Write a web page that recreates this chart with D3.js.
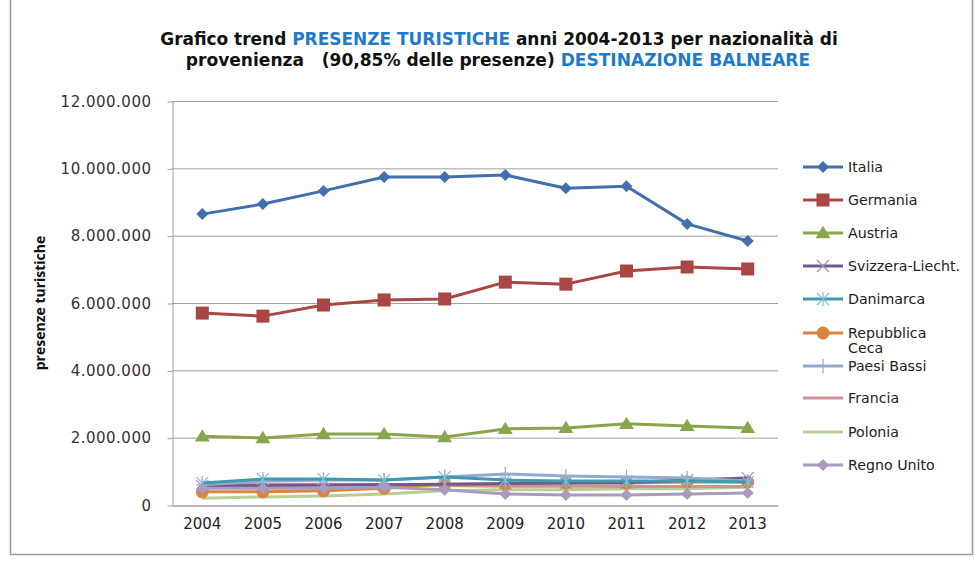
<!DOCTYPE html>
<html><head><meta charset="utf-8">
<script src="https://cdn.jsdelivr.net/npm/d3@7"></script>
<style>
body{margin:0;background:#fff;}
svg{display:block;font-family:"DejaVu Sans",sans-serif;}
</style></head>
<body><svg id="c" width="974" height="563"></svg>
<script>
const years = ["2004","2005","2006","2007","2008","2009","2010","2011","2012","2013"];
const yTicks = [0,2000000,4000000,6000000,8000000,10000000,12000000];
const seriesNames = ["Italia","Germania","Austria","Svizzera-Liecht.","Danimarca","Repubblica Ceca","Paesi Bassi","Francia","Polonia","Regno Unito"];
const italia     = [8640000,8940000,9330000,9740000,9740000,9800000,9410000,9470000,8350000,7840000];
const germania   = [5700000,5610000,5940000,6090000,6120000,6620000,6560000,6950000,7070000,7010000];
const austria    = [2040000,1990000,2110000,2110000,2020000,2260000,2290000,2410000,2350000,2290000];
const svizzera   = [560000,580000,590000,600000,620000,640000,650000,660000,740000,800000];
const danimarca  = [650000,770000,770000,740000,830000,740000,710000,710000,710000,680000];
const repCeca    = [390000,390000,420000,500000,620000,620000,650000,650000,680000,680000];
const paesiBassi = [600000,710000,740000,740000,830000,920000,860000,830000,800000,710000];
const francia    = [600000,620000,620000,610000,580000,560000,560000,550000,550000,550000];
const polonia    = [200000,240000,270000,330000,420000,450000,450000,480000,480000,530000];
const regnoUnito = [500000,500000,500000,530000,450000,330000,300000,300000,330000,360000];
const seriesValues = [italia,germania,austria,svizzera,danimarca,repCeca,paesiBassi,francia,polonia,regnoUnito];
const colors = ["#4170AC","#AA4643","#89A54E","#71588F","#4198AF","#DB843D","#93A9CF","#D19392","#B9CD96","#A99BBD"];
const markers = ["diamond","square","triangle","x","asterisk","circle","plus","none","none","diamond"];

const svg = d3.select("#c");
svg.append("rect").attr("x",10.5).attr("y",-2).attr("width",962).attr("height",556.5)
  .attr("fill","none").attr("stroke","#999").attr("stroke-width",1.5);

const L=172, R=778, T=101, B=505;
const x = d3.scaleBand().domain(years).range([L,R]);
const y = d3.scaleLinear().domain([0,12000000]).range([B,T]);
const fmt = v => d3.format(",")(v).replace(/,/g,".");

svg.append("g").selectAll("line").data(yTicks.filter(d=>d>0)).join("line")
  .attr("x1",L).attr("x2",R).attr("y1",d=>y(d)+0.5).attr("y2",d=>y(d)+0.5)
  .attr("stroke","#a0a0a0").attr("stroke-width",1);

const ya = svg.append("g").attr("transform",`translate(${L+0.5},0.5)`)
  .call(d3.axisLeft(y).tickValues(yTicks).tickFormat(fmt).tickSize(5).tickSizeOuter(0).tickPadding(16));
ya.select(".domain").attr("stroke","#a0a0a0");
ya.selectAll(".tick line").attr("stroke","#a0a0a0");
ya.selectAll("text").attr("font-size",15).attr("letter-spacing",0.5).attr("fill","#333")
  .attr("font-family","'DejaVu Sans',sans-serif");

const xa = svg.append("g").attr("transform",`translate(0,${B+0.5})`)
  .call(d3.axisBottom(x).tickSize(0).tickPadding(13));
xa.select(".domain").attr("stroke","#a0a0a0").attr("stroke-width",1.5);
xa.selectAll("text").attr("font-size",15).attr("fill","#222").attr("font-family","'DejaVu Sans',sans-serif");

svg.append("text").attr("transform","translate(45,303) rotate(-90)").attr("text-anchor","middle")
  .attr("font-size",14).attr("font-weight","bold").attr("font-family","'Liberation Sans Narrow','Open Sans',sans-serif")
  .attr("fill","#111").text("presenze turistiche");

function fitText(sel, target){
  const w = sel.node().getComputedTextLength();
  const fs = parseFloat(sel.attr("font-size"));
  sel.attr("font-size", fs*target/w);
}
const t1 = svg.append("text").attr("x",499).attr("y",45).attr("text-anchor","middle")
  .attr("font-size",15).attr("font-weight","bold").attr("fill","#111").attr("font-family","'DejaVu Sans',sans-serif");
t1.append("tspan").text("Grafico trend ");
t1.append("tspan").attr("fill","#1F7BC8").text("PRESENZE TURISTICHE");
t1.append("tspan").text(" anni 2004-2013 per nazionalità  di");
fitText(t1,678);
const t2 = svg.append("text").attr("x",498).attr("y",66).attr("text-anchor","middle")
  .attr("font-size",15).attr("font-weight","bold").attr("fill","#111").attr("font-family","'DejaVu Sans',sans-serif")
  .style("white-space","pre");
t2.append("tspan").text("provenienza   (90,85% delle presenze) ");
t2.append("tspan").attr("fill","#1F7BC8").text("DESTINAZIONE BALNEARE");
fitText(t2,625);

function drawMarker(g, type, cx, cy, color, s){
  if(type==="none") return;
  if(type==="diamond"){
    g.append("path").attr("d",`M${cx},${cy-s}L${cx+s},${cy}L${cx},${cy+s}L${cx-s},${cy}Z`).attr("fill",color);
  } else if(type==="square"){
    g.append("rect").attr("x",cx-s).attr("y",cy-s).attr("width",2*s).attr("height",2*s).attr("fill",color);
  } else if(type==="triangle"){
    g.append("path").attr("d",`M${cx},${cy-s*1.1}L${cx+s*1.15},${cy+s*0.8}L${cx-s*1.15},${cy+s*0.8}Z`).attr("fill",color);
  } else if(type==="circle"){
    g.append("circle").attr("cx",cx).attr("cy",cy).attr("r",s).attr("fill",color);
  } else if(type==="x"){
    g.append("path").attr("d",`M${cx-s},${cy-s}L${cx+s},${cy+s}M${cx-s},${cy+s}L${cx+s},${cy-s}`).attr("stroke","#9C90C0").attr("stroke-width",1.2);
  } else if(type==="asterisk"){
    g.append("path").attr("d",`M${cx-s},${cy-s}L${cx+s},${cy+s}M${cx-s},${cy+s}L${cx+s},${cy-s}M${cx},${cy-s*1.2}L${cx},${cy+s*1.2}`).attr("stroke","#7FBFD8").attr("stroke-width",1.2);
  } else if(type==="plus"){
    g.append("path").attr("d",`M${cx-s},${cy}L${cx+s},${cy}M${cx},${cy-s*1.2}L${cx},${cy+s*1.2}`).attr("stroke","#93A9CF").attr("stroke-width",1.2);
  }
}
const sizes = {diamond:6,square:6.5,triangle:6.5,circle:6.5,x:6,asterisk:6,plus:6,none:0};

const line = d3.line().x((d,i)=>x(years[i])+x.bandwidth()/2).y(d=>y(d));
const order = [8,7,5,3,6,4,9,2,1,0];
const gl = svg.append("g");
order.forEach(k=>{
  const g = gl.append("g");
  g.append("path").attr("d",line(seriesValues[k])).attr("fill","none")
    .attr("stroke",colors[k]).attr("stroke-width",3).attr("stroke-linejoin","round");
  seriesValues[k].forEach((v,i)=>drawMarker(g,markers[k],x(years[i])+x.bandwidth()/2,y(v),colors[k],sizes[markers[k]]));
});

const legY = [167,200,233,266,299,333,366,398,432,465];
const lg = svg.append("g");
seriesNames.forEach((n,k)=>{
  const yy = legY[k];
  lg.append("line").attr("x1",803).attr("x2",843).attr("y1",yy).attr("y2",yy).attr("stroke",colors[k]).attr("stroke-width",3);
  drawMarker(lg,markers[k],823,yy,colors[k],sizes[markers[k]]);
  const lines = n==="Repubblica Ceca" ? ["Repubblica","Ceca"] : [n];
  lines.forEach((s,j)=>lg.append("text").attr("x",848).attr("y",yy+5+j*15).attr("font-size",14.2).attr("fill","#222").text(s));
});
</script></body></html>
